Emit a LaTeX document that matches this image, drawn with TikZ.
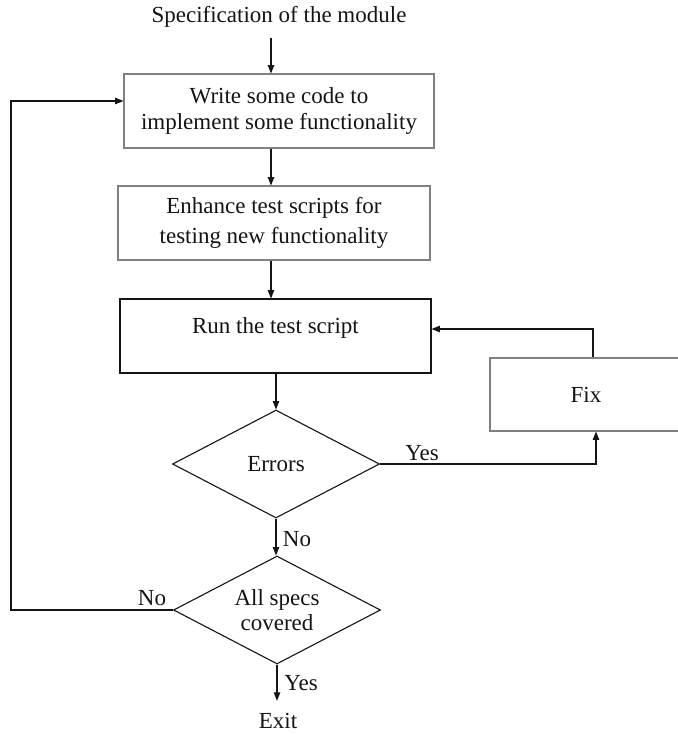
\documentclass[tikz,border=0pt]{standalone}
\usepackage{fontspec}
\setmainfont{Liberation Serif}
\usetikzlibrary{arrows.meta,shapes.geometric,calc}
\definecolor{edgegray}{RGB}{128,128,128}
\definecolor{ink}{RGB}{20,20,20}
\begin{document}
\begin{tikzpicture}[x=0.5pt,y=-0.5pt,
  every node/.style={font=\fontsize{11.5}{13}\selectfont, text=ink},
  procbox/.style={draw, rectangle, inner sep=0pt, line width=0.55pt, align=center},
  decision/.style={draw=ink, diamond, aspect=2, inner sep=0pt, line width=0.55pt, align=center, minimum width=103.5pt, minimum height=54pt},
  conn/.style={draw=ink, line width=0.55pt, -{Triangle[length=4.2pt,width=3.2pt]}},
  lbl/.style={inner sep=0pt}]
\useasboundingbox (0,0) rectangle (678,734);

\node[lbl, inner sep=5pt] (spec) at (279,17) {Specification of the module};
\node[procbox, draw=edgegray, minimum width=155pt, minimum height=37pt] (write) at (279,111) {Write some code to\\implement some functionality};
\node[procbox, draw=edgegray, minimum width=156pt, minimum height=37pt] (enh) at (274,223) {Enhance test scripts for\\[2pt]testing new functionality};
\node[procbox, draw=ink, minimum width=155.5pt, minimum height=37pt, text height=8pt, text depth=11pt] (run) at (275.5,336) {Run the test script};
\node[procbox, draw=edgegray, minimum width=96pt, minimum height=36.5pt] (fix) at (586,394.5) {Fix};
\node[decision] (err) at (276,464) {Errors};
\node[decision] (all) at (277,610) {All specs\\[-0.5pt]covered};
\node[lbl, inner sep=6pt] (exit) at (278,721) {Exit};

\node[lbl] (yes1) at (422,453) {Yes};
\node[lbl] (no1) at (297,539) {No};
\node[lbl] (no2) at (152,598) {No};
\node[lbl] (yes2) at (301,683) {Yes};

\coordinate (cx) at (271,0);
\coordinate (yx) at (596,466);
\coordinate (fb) at (593,329);
\coordinate (lp) at (11,101);

\draw[conn] (spec.south -| cx) -- (write.north -| cx);
\draw[conn] (write.south -| cx) -- (enh.north -| cx);
\draw[conn] (enh.south -| cx) -- (run.north -| cx);
\draw[conn] (run.south -| err.north) -- (err.north);
\draw[conn] (err.south) -- (err.south |- all.north);
\draw[conn] (all.south) -- (all.south |- exit.north);
\draw[conn] (err.east) -| (fix.south -| yx);
\draw[conn] (fix.north -| fb) |- (run.east |- fb);
\draw[conn] (all.west) -| (lp) -- (write.west |- lp);
\end{tikzpicture}
\end{document}
